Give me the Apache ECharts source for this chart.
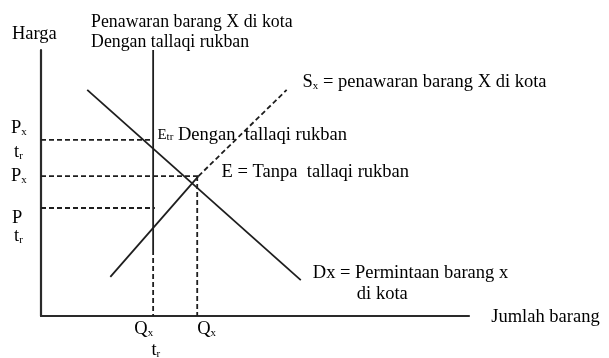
<!DOCTYPE html>
<html lang="id">
<head>
    <meta charset="utf-8"/>
    <title>Penawaran barang X di kota</title>
    <script src="https://cdn.jsdelivr.net/npm/echarts@6/dist/echarts.min.js"></script>
    <style>
        html, body { margin: 0; background: #FFFFFF; }
        #chart { width: 609px; height: 358px; }
    </style>
</head>
<body>
<div id="chart"></div>
<script>
    // kurva (satuan: jumlah 0-100, harga 0-100)
    var demand = [[10.8, 85], [60.7, 13.5]];
    var supplySolid = [[16.2, 14.7], [36.8, 52.6]];
    var supplyDashed = [[36.8, 52.6], [57.4, 85]];
    var tallaqiSupply = [[26.2, 100], [26.2, 24.8]];
    var tallaqiDrop = [[26.2, 24.8], [26.2, 0]];
    var qxDrop = [[36.5, 52.6], [36.5, 0]];
    var guidePxTr = [[0, 66.2], [26.2, 66.2]];
    var guidePx = [[0, 52.6], [36.8, 52.6]];
    var guidePTr = [[0, 40.6], [26.6, 40.6]];

    // teks: [isi, x, y]
    var notes = [
        ['Harga', -6.8, 106],
        ['{h|Penawaran barang X di kota}', 11.7, 110.5],
        ['{h|Dengan tallaqi rukban}', 11.7, 103],
        ['{b|S}{s|x}{b| = penawaran barang X di kota}', 61.1, 88],
        ['{m|E}{t|tr}{b| Dengan  tallaqi rukban}', 27.2, 68],
        ['E = Tanpa  tallaqi rukban', 42.2, 54.1],
        ['Dx = Permintaan barang x', 63.5, 16.2],
        ['di kota', 73.8, 8.3],
        ['Jumlah barang', 105.2, -0.4],
        ['{b|P}{s|x}', -7.0, 70.7],
        ['{b|t}{s|r}', -6.3, 61.7],
        ['{b|P}{s|x}', -7.0, 52.6],
        ['P', -6.8, 36.8],
        ['{b|t}{s|r}', -6.3, 30.1],
        ['{b|Q}{s|x}', 21.8, -4.9],
        ['{b|Q}{s|x}', 36.5, -4.9],
        ['{b|t}{s|r}', 25.8, -12.8]
    ];

    var ink = '#1e1e1e';
    var font = '"Liberation Serif", "DejaVu Serif", serif';

    function solid(data) {
        return {
            type: 'line', data: data, symbol: 'none', silent: true,
            lineStyle: { color: ink, width: 1.8 }
        };
    }

    function dashed(data) {
        return {
            type: 'line', data: data, symbol: 'none', silent: true,
            lineStyle: { color: ink, width: 1.8, type: [5, 3] }
        };
    }

    var chart = echarts.init(document.getElementById('chart'));
    var axisBase = {
        type: 'value', min: 0, max: 100,
        axisLine: { show: true, lineStyle: { color: '#2a2a2a', width: 2.2 } },
        axisTick: { show: false },
        axisLabel: { show: false },
        splitLine: { show: false }
    };
    chart.setOption({
        animation: false,
        backgroundColor: '#FFFFFF',
        grid: { left: 41, right: 140, top: 50, bottom: 42 },
        xAxis: axisBase,
        yAxis: axisBase,
        series: [
            solid(demand),
            solid(supplySolid),
            dashed(supplyDashed),
            solid(tallaqiSupply),
            dashed(tallaqiDrop),
            dashed(qxDrop),
            dashed(guidePxTr),
            dashed(guidePx),
            dashed(guidePTr)
        ]
    });

    var rich = {
        b: { fontFamily: font, fontSize: 18.5, color: ink },
        h: { fontFamily: font, fontSize: 17.8, color: ink },
        s: { fontFamily: font, fontSize: 11, color: ink, padding: [8, 0, 0, 0] },
        m: { fontFamily: font, fontSize: 15, color: ink },
        t: { fontFamily: font, fontSize: 11, color: ink, padding: [3, 0, 0, 0] }
    };

    chart.setOption({
        graphic: notes.map(function (n) {
            var p = chart.convertToPixel({ gridIndex: 0 }, [n[1], n[2]]);
            var txt = n[0].indexOf('{') === 0 ? n[0] : '{b|' + n[0] + '}';
            return {
                type: 'text', x: p[0], y: p[1], silent: true,
                style: { text: txt, rich: rich, verticalAlign: 'middle', align: 'left' }
            };
        })
    });
</script>
</body>
</html>
